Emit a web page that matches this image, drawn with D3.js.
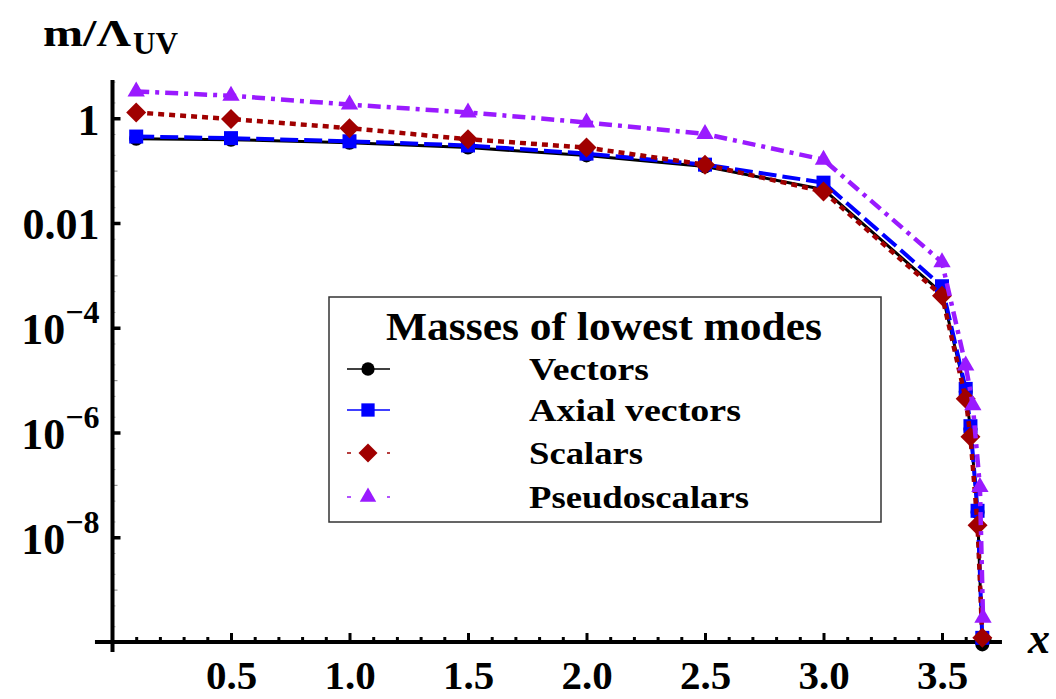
<!DOCTYPE html>
<html>
<head>
<meta charset="utf-8">
<script src="https://cdn.jsdelivr.net/npm/d3@7"></script>
<style>
  html, body { margin: 0; padding: 0; background: #ffffff; }
  svg { display: block; }
  text { font-family: "Liberation Serif", "Times New Roman", serif; font-weight: bold; fill: #000; }
</style>
</head>
<body>
<script>
// ---------------- data ----------------
const xValues       = [0.1, 0.5, 1.0, 1.5, 2.0, 2.5, 3.0, 3.5, 3.6, 3.62, 3.65, 3.67];
const xValuesPseudo = [0.1, 0.5, 1.0, 1.5, 2.0, 2.5, 3.0, 3.5, 3.6, 3.63, 3.66, 3.673];

const vectors       = [0.407, 0.389, 0.339, 0.275, 0.195, 0.120, 0.0437, 4.6e-4, 6.0e-6, 1.17e-6, 3.0e-8, 9e-11];
const axialVectors  = [0.447, 0.417, 0.363, 0.302, 0.211, 0.130, 0.0589, 6.2e-4, 6.8e-6, 1.32e-6, 3.2e-8, 1.2e-10];
const scalars       = [1.29, 0.966, 0.646, 0.398, 0.275, 0.130, 0.0398, 4.1e-4, 4.4e-6, 8.3e-7, 1.7e-8, 1.2e-10];
const pseudoscalars = [3.24, 2.69, 1.82, 1.29, 0.832, 0.501, 0.162, 1.78e-3, 1.9e-5, 3.3e-6, 9.1e-8, 2.9e-10];

const seriesNames   = ["Vectors", "Axial vectors", "Scalars", "Pseudoscalars"];
const legendTitle   = "Masses of lowest modes";

const xMajorTicks   = [0.5, 1.0, 1.5, 2.0, 2.5, 3.0, 3.5];
const xMinorTicks   = [0.1,0.2,0.3,0.4,0.6,0.7,0.8,0.9,1.1,1.2,1.3,1.4,1.6,1.7,1.8,1.9,2.1,2.2,2.3,2.4,2.6,2.7,2.8,2.9,3.1,3.2,3.3,3.4,3.6,3.7];
const yMajorTicks   = [1, 1e-2, 1e-4, 1e-6, 1e-8];
const yTickLabels   = ["1", "0.01", "10^\u22124", "10^\u22126", "10^\u22128"];
const yMidTicks     = [1e-1, 1e-3, 1e-5, 1e-7, 1e-9];
const yFaintTicks   = [5e-1,2e-1,5e-2,2e-2,5e-3,2e-3,5e-4,2e-4,5e-5,2e-5,5e-6,2e-6,5e-7,2e-7,5e-8,2e-8,5e-9,2e-9,5e-10,2e-10,2,5];

// ---------------- styles ----------------
const styles = [
  { color: "#000000", width: 3,   dash: null,        symbol: "circle"   },
  { color: "#0000ff", width: 4,   dash: "18,6",      symbol: "square"   },
  { color: "#a00000", width: 4.5, dash: "6,5",       symbol: "diamond"  },
  { color: "#9a1aff", width: 4.5, dash: "13,6,4,6",  symbol: "triangle" }
];

const W = 1056, H = 699;
const svg = d3.select("body").append("svg").attr("width", W).attr("height", H);

const x = d3.scaleLinear().domain([0, 3.75]).range([112.5, 1001.25]);
const y = d3.scaleLog().domain([1e-10, Math.pow(10, 0.73)]).range([642, 80]);

const x0 = x(0), yBase = y(1e-10);

// ---------------- axes ----------------
const gxMinor = svg.append("g").attr("transform", `translate(0,${yBase})`)
  .call(d3.axisBottom(x).tickValues(xMinorTicks).tickSize(-5).tickFormat(""));
gxMinor.select(".domain").remove();
gxMinor.selectAll(".tick line").attr("stroke", "#000").attr("stroke-width", 3);

const gx = svg.append("g").attr("transform", `translate(0,${yBase})`)
  .call(d3.axisBottom(x).tickValues(xMajorTicks).tickSize(-9).tickFormat(d3.format(".1f")));
gx.select(".domain").remove();
gx.selectAll(".tick line").attr("stroke", "#000").attr("stroke-width", 3);
gx.selectAll(".tick text").attr("y", 47).attr("dy", 0)
  .style("font-size", "41px").style("font-family", "Liberation Serif, serif").style("font-weight", "bold");

const gyFaint = svg.append("g").attr("transform", `translate(${x0},0)`)
  .call(d3.axisLeft(y).tickValues(yFaintTicks).tickSize(-3).tickFormat(""));
gyFaint.select(".domain").remove();
gyFaint.selectAll(".tick line").attr("stroke", "#aaa").attr("stroke-width", 1);

const gyMid = svg.append("g").attr("transform", `translate(${x0},0)`)
  .call(d3.axisLeft(y).tickValues(yMidTicks).tickSize(-5).tickFormat(""));
gyMid.select(".domain").remove();
gyMid.selectAll(".tick line").attr("stroke", "#999").attr("stroke-width", 1.2);

const gy = svg.append("g").attr("transform", `translate(${x0},0)`)
  .call(d3.axisLeft(y).tickValues(yMajorTicks).tickSize(-8).tickPadding(13)
        .tickFormat((d, i) => yTickLabels[i]));
gy.select(".domain").remove();
gy.selectAll(".tick line").attr("stroke", "#000").attr("stroke-width", 3.5);
gy.selectAll(".tick text").each(function(d, i) {
  const t = d3.select(this);
  const lab = yTickLabels[i];
  t.text(null).attr("dy", 0).attr("y", 16).attr("text-anchor", "end")
   .style("font-size", "44px").style("font-family", "Liberation Serif, serif").style("font-weight", "bold");
  if (lab.includes("^")) {
    const [base, exp] = lab.split("^");
    t.append("tspan").text(base);
    t.append("tspan").attr("dy", -21).style("font-size", "32px").text(exp);
  } else {
    t.text(lab);
  }
});

svg.append("line").attr("x1", x(-0.074)).attr("x2", x(3.753)).attr("y1", yBase).attr("y2", yBase)
  .attr("stroke", "#000").attr("stroke-width", 4);
svg.append("line").attr("x1", x0).attr("x2", x0).attr("y1", y(Math.pow(10, 0.73))).attr("y2", yBase + 10)
  .attr("stroke", "#000").attr("stroke-width", 4);

svg.append("text").attr("x", 43).attr("y", 46).style("font-size", "38px").attr("class", "stretch").attr("data-w", 88).text("m/\u039b");
svg.append("text").attr("x", 133).attr("y", 54).style("font-size", "31px").attr("class", "stretch").attr("data-w", 45).text("UV");
svg.append("text").attr("x", 1028).attr("y", 653).style("font-size", "44px").style("font-style", "italic").text("x");

// ---------------- series ----------------
const allSeries = [
  { name: seriesNames[0], xs: xValues,       ys: vectors,       st: styles[0] },
  { name: seriesNames[1], xs: xValues,       ys: axialVectors,  st: styles[1] },
  { name: seriesNames[2], xs: xValues,       ys: scalars,       st: styles[2] },
  { name: seriesNames[3], xs: xValuesPseudo, ys: pseudoscalars, st: styles[3] }
];

function symbolPath(kind, scale) {
  const s = scale || 1;
  if (kind === "circle")   return d3.symbol(d3.symbolCircle, 154 * s * s)();
  if (kind === "square")   return d3.symbol(d3.symbolSquare, 196 * s * s)();
  if (kind === "diamond")  return d3.symbol(d3.symbolSquare, 200 * s * s)();
  return d3.symbol(d3.symbolTriangle, 130 * s * s)();
}
function symbolRot(kind) { return kind === "diamond" ? 45 : 0; }

const line = d3.line().x(d => x(d[0])).y(d => y(d[1]));

allSeries.forEach(s => {
  const pts = s.xs.map((xv, i) => [xv, s.ys[i]]);
  const g = svg.append("g");
  g.append("path").datum(pts).attr("d", line)
    .attr("fill", "none").attr("stroke", s.st.color).attr("stroke-width", s.st.width)
    .attr("stroke-dasharray", s.st.dash).attr("stroke-linejoin", "round");
  g.selectAll("path.pt").data(pts).enter().append("path").attr("class", "pt")
    .attr("d", symbolPath(s.st.symbol))
    .attr("transform", d => `translate(${x(d[0])},${y(d[1])}) rotate(${symbolRot(s.st.symbol)})`)
    .attr("fill", s.st.color);
});

// ---------------- legend ----------------
const lg = svg.append("g");
lg.append("rect").attr("x", 329).attr("y", 297).attr("width", 552).attr("height", 225)
  .attr("fill", "#fff").attr("stroke", "#333").attr("stroke-width", 1.5);
lg.append("text").attr("x", 386).attr("y", 340).style("font-size", "41px")
  .attr("class", "stretch").attr("data-w", 436).text(legendTitle);

const legendRowsY = [369, 410, 453, 497];
const legendTextW = [120, 212, 114, 220];
const legendDash = [null, null, "4,36", "4,36"];
allSeries.forEach((s, i) => {
  const cy = legendRowsY[i];
  lg.append("line").attr("x1", 347).attr("x2", 390).attr("y1", cy).attr("y2", cy)
    .attr("stroke", s.st.color).attr("stroke-width", 1.5).attr("stroke-dasharray", legendDash[i]);
  lg.append("path").attr("d", symbolPath(s.st.symbol, 0.95))
    .attr("transform", `translate(368,${cy}) rotate(${symbolRot(s.st.symbol)})`)
    .attr("fill", s.st.color);
  lg.append("text").attr("x", 529).attr("y", cy + 11).style("font-size", "32px")
    .attr("class", "stretch").attr("data-w", legendTextW[i]).text(s.name);
});

svg.selectAll("text.stretch").each(function() {
  const w = +this.getAttribute("data-w");
  d3.select(this).attr("textLength", w).attr("lengthAdjust", "spacingAndGlyphs");
});
</script>
</body>
</html>
